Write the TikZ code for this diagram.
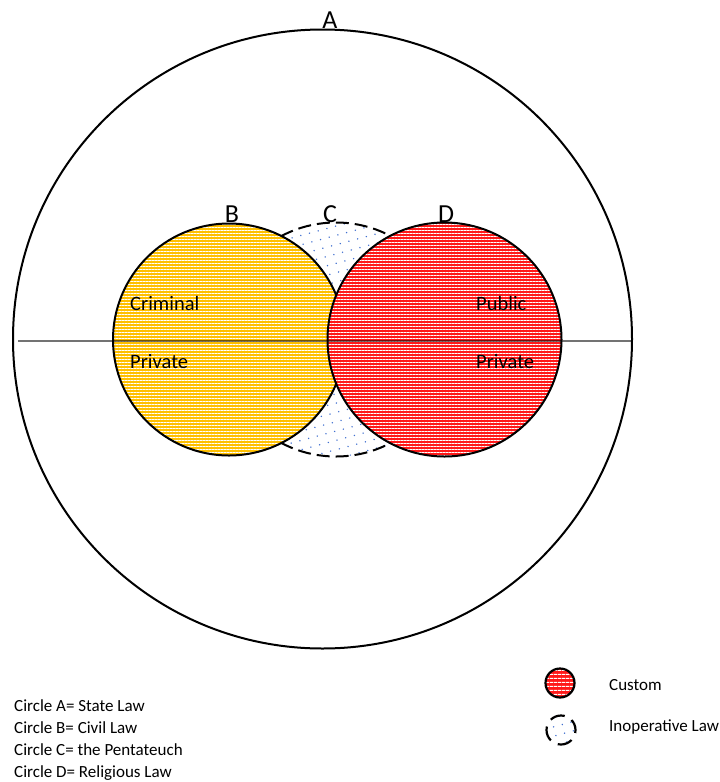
\documentclass[tikz,border=0pt]{standalone}
\usepackage{fontspec}
\setmainfont{Carlito}
\usetikzlibrary{patterns.meta}
\definecolor{bgold}{HTML}{FFC000}
\definecolor{bred}{HTML}{FF1A1A}
\definecolor{dotblue}{HTML}{3F6FD0}
\tikzset{
  bigcirc/.style={circle, draw=black, line width=2pt, minimum size=619pt, inner sep=0pt},
  civil/.style={circle, draw=black, line width=2pt, minimum size=232pt, inner sep=0pt,
     preaction={fill=bgold}, pattern={Lines[angle=0,distance=3pt,line width=0.9pt]}, pattern color=white},
  relig/.style={circle, draw=black, line width=2pt, minimum size=234pt, inner sep=0pt,
     preaction={fill=bred}, pattern={Lines[angle=0,distance=3pt,line width=0.9pt]}, pattern color=white},
  penta/.style={circle, draw=black, line width=2pt, dash pattern=on 13pt off 6pt, minimum size=234pt, inner sep=0pt,
     pattern={Dots[distance=9pt,radius=0.8pt,angle=15]}, pattern color=dotblue},
  biglabel/.style={font=\fontsize{26}{28}\selectfont, anchor=base, inner sep=0pt},
  inlabel/.style={font=\fontsize{20.5}{23}\selectfont, anchor=base west, inner sep=0pt},
  legtext/.style={font=\fontsize{17}{20}\selectfont, anchor=base west, inner sep=0pt},
  legcustom/.style={circle, draw=black, line width=2.2pt, minimum size=29pt, inner sep=0pt,
     preaction={fill=bred}, pattern={Lines[angle=0,distance=4pt,line width=1.2pt]}, pattern color=white},
  leginop/.style={circle, draw=black, line width=2.2pt, dash pattern=on 15pt off 8pt, dash phase=4pt, minimum size=29pt, inner sep=0pt,
     pattern={Dots[distance=9pt,radius=0.8pt,angle=15]}, pattern color=dotblue},
}
\begin{document}
\begin{tikzpicture}[x=1pt,y=-1pt]
\useasboundingbox (0,0) rectangle (720,782);
\fill[white] (0,0) rectangle (720,782);
% circle A
\node[bigcirc] (A) at (322.5,339) {};
% circle C (behind)
\node[penta] (C) at (336,339.5) {};
% circle B
\node[civil] (B) at (229,339.5) {};
% circle D
\node[relig] (D) at (444.5,339.5) {};
% dividing line
\coordinate (L1) at (18,341);
\coordinate (L2) at (632,341);
\draw[black, opacity=0.55, line width=1.6pt] (L1) -- (L2);
% labels
\node[biglabel] (la) at (330,28) {A};
\node[biglabel] (lb) at (232,222) {B};
\node[biglabel] (lc) at (330,222) {C};
\node[biglabel] (ld) at (446,222) {D};
\node[inlabel] (crim) at (130,310) {Criminal};
\node[inlabel] (priv1) at (130,368) {Private};
\node[inlabel] (pub) at (476,310) {Public};
\node[inlabel] (priv2) at (476,368) {Private};
% legend text
\node[legtext] (l1) at (14,711) {Circle A= State Law};
\node[legtext] (l2) at (14,733) {Circle B= Civil Law};
\node[legtext] (l3) at (14,755) {Circle C= the Pentateuch};
\node[legtext] (l4) at (14,777) {Circle D= Religious Law};
% legend icons
\node[legcustom] (ic1) at (560,683) {};
\node[leginop] (ic2) at (561,730) {};
\node[legtext] (t1) at (609,690) {Custom};
\node[legtext] (t2) at (609,731) {Inoperative Law};
\end{tikzpicture}
\end{document}
